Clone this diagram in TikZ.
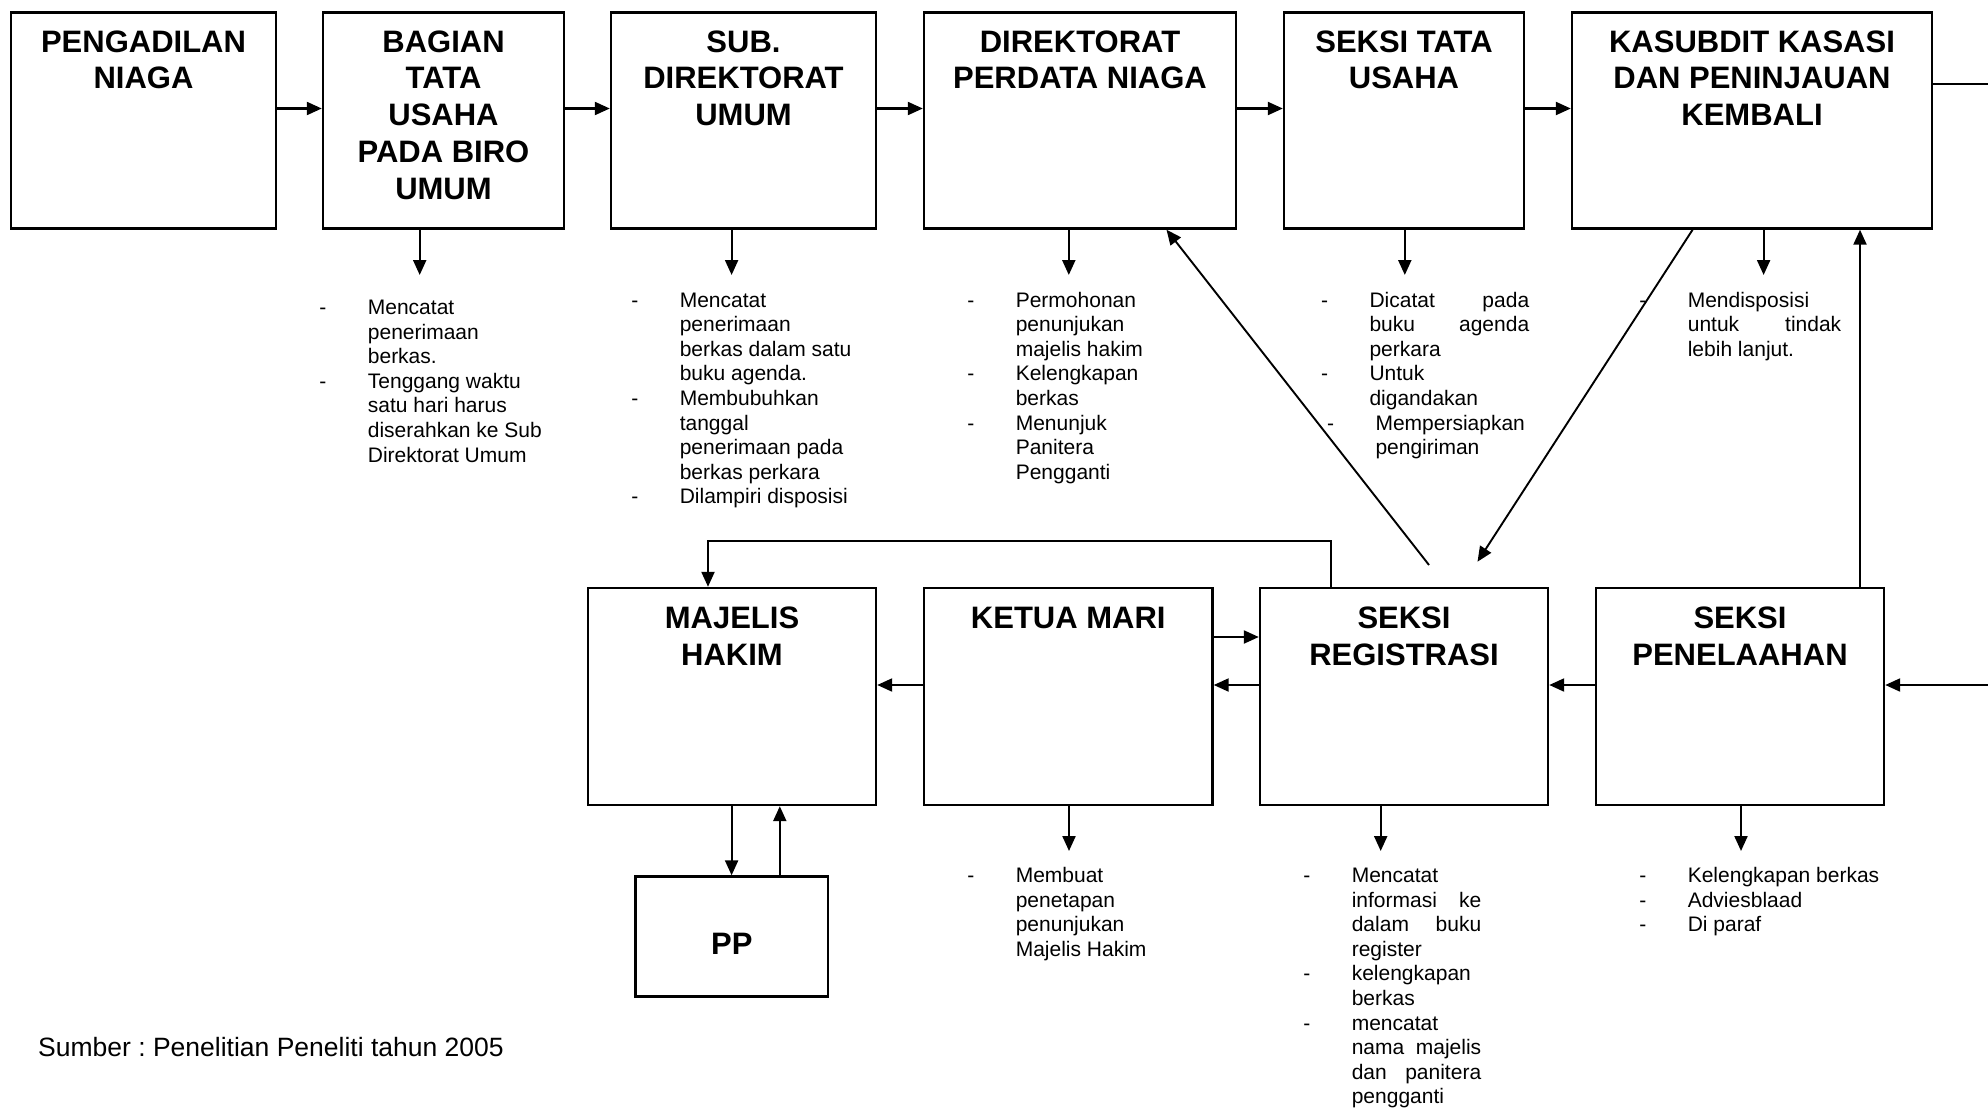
\documentclass[tikz,border=0pt]{standalone}
\usepackage{fontspec}
\setmainfont{Liberation Sans}
\usetikzlibrary{arrows.meta}
\frenchspacing

% stacked, centred title lines
\newcommand\stack[1]{\begin{tabular}[t]{@{}c@{}}#1\end{tabular}}
% bullet dash with a fixed hanging indent
\newcommand\dsh{\makebox[48.5pt][l]{-}}
% list of notes under a box
\newcommand\notes[1]{\begin{tabular}[t]{@{}l@{}l@{}}#1\end{tabular}}

\begin{document}
\begin{tikzpicture}[x=1pt,y=-1pt,
  box/.style={draw, line width=2.4pt, inner sep=0pt},
  ttl/.style={font=\fontsize{31}{36.7}\selectfont\bfseries, inner sep=0pt, anchor=base},
  note/.style={font=\fontsize{21}{24.6}\selectfont, inner sep=0pt, anchor=base west},
  arr/.style={line width=2.2pt, -{Triangle[length=15pt,width=13pt]}},
  thinarr/.style={line width=1.9pt, -{Triangle[length=15pt,width=13pt]}},
  ln/.style={line width=2.2pt}]

\useasboundingbox[fill=white] (0,0) rectangle (1988,1108);

% ---------- upper row ----------
\node[box, minimum width=265pt, minimum height=216pt] (pn) at (143.5,120.5) {};
\node[box, minimum width=241pt, minimum height=216pt] (bg) at (443.5,120.5) {};
\node[box, minimum width=265pt, minimum height=216pt] (sd) at (743.5,120.5) {};
\node[box, minimum width=312pt, minimum height=216pt] (dp) at (1080,120.5) {};
\node[box, minimum width=240pt, minimum height=216pt] (st) at (1404,120.5) {};
\node[box, minimum width=360pt, minimum height=216pt] (ks) at (1752,120.5) {};

\node[ttl] (pn-t) at ([yshift=-41pt]pn.north) {\stack{PENGADILAN\\NIAGA}};
\node[ttl] (bg-t) at ([yshift=-41pt]bg.north) {\stack{BAGIAN\\TATA\\USAHA\\PADA BIRO\\UMUM}};
\node[ttl] (sd-t) at ([yshift=-41pt]sd.north) {\stack{SUB.\\DIREKTORAT\\UMUM}};
\node[ttl] (dp-t) at ([yshift=-41pt]dp.north) {\stack{DIREKTORAT\\PERDATA NIAGA}};
\node[ttl] (st-t) at ([yshift=-41pt]st.north) {\stack{SEKSI TATA\\USAHA}};
\node[ttl] (ks-t) at ([yshift=-41pt]ks.north) {\stack{KASUBDIT KASASI\\DAN PENINJAUAN\\KEMBALI}};

% ---------- lower row ----------
\node[box, minimum width=288pt, minimum height=217pt] (mh) at (732,696.5) {};
\node[box, minimum width=288.5pt, minimum height=217pt] (km) at (1068.25,696.5) {};
\node[box, minimum width=288pt, minimum height=217pt] (sr) at (1404,696.5) {};
\node[box, minimum width=288pt, minimum height=217pt] (sp) at (1740,696.5) {};
\node[box, minimum width=192.5pt, minimum height=120pt] (pp) at (731.75,936.5) {};

\node[ttl] (mh-t) at ([yshift=-42pt]mh.north) {\stack{MAJELIS\\HAKIM}};
\node[ttl] (km-t) at ([yshift=-42pt]km.north) {\stack{KETUA MARI}};
\node[ttl] (sr-t) at ([yshift=-42pt]sr.north) {\stack{SEKSI\\REGISTRASI}};
\node[ttl] (sp-t) at ([yshift=-42pt]sp.north) {\stack{SEKSI\\PENELAAHAN}};
\node[ttl] (pp-t) at (731.75,954) {PP};

% ---------- helper coordinates ----------
\coordinate (yT) at (0,108.5);
\coordinate (yK) at (0,84);
\coordinate (yL) at (0,685);
\coordinate (yU) at (0,637);
\coordinate (kR) at (1988,84);
\coordinate (pR) at (1988,685);

\coordinate (n1) at (419.7,275);
\coordinate (n2) at (731.6,275);
\coordinate (n3) at (1068.8,275);
\coordinate (n4) at (1404.8,275);
\coordinate (n5) at (1763.6,275);
\coordinate (m1) at (1069,851);
\coordinate (m2) at (1380.7,851);
\coordinate (m3) at (1741,851);

\coordinate (xP) at (1860,0);
\coordinate (xR) at (1331,541);
\coordinate (xM) at (708,541);
\coordinate (d1) at (1429,565);
\coordinate (d1e) at (1166.5,0);
\coordinate (d2s) at (1692.6,0);
\coordinate (d2) at (1477.5,561.7);
\coordinate (xA) at (731.6,0);
\coordinate (xB) at (779.8,0);

% ---------- connectors, upper row ----------
\foreach \a/\b in {pn/bg, bg/sd, sd/dp, dp/st, st/ks}
  \draw[arr] (\a.east |- yT) -- (\b.west |- yT);
\draw[ln] (ks.east |- yK) -- (kR);

\draw[arr] (n1 |- bg.south) -- (n1);
\draw[arr] (n2 |- sd.south) -- (n2);
\draw[arr] (n3 |- dp.south) -- (n3);
\draw[arr] (n4 |- st.south) -- (n4);
\draw[arr] (n5 |- ks.south) -- (n5);

% ---------- connectors, lower row ----------
\draw[arr] (km.west |- yL) -- (mh.east |- yL);
\draw[arr] (sr.west |- yL) -- (km.east |- yL);
\draw[arr] (km.east |- yU) -- (sr.west |- yU);
\draw[arr] (sp.west |- yL) -- (sr.east |- yL);
\draw[arr] (pR) -- (sp.east |- yL);
\draw[arr] (xP |- sp.north) -- (xP |- ks.south);
\draw[arr] (xR |- sr.north) -- (xR) -- (xM) -- (xM |- mh.north);
\draw[thinarr] (d1) -- (d1e |- dp.south);
\draw[thinarr] (d2s |- ks.south) -- (d2);
\draw[arr] (xA |- mh.south) -- (xA |- pp.north);
\draw[arr] (xB |- pp.north) -- (xB |- mh.south);

\draw[arr] (m1 |- km.south) -- (m1);
\draw[arr] (m2 |- sr.south) -- (m2);
\draw[arr] (m3 |- sp.south) -- (m3);

% ---------- notes ----------
\node[note] (bg-n) at (319.2,314.5) {\notes{%
  \dsh & Mencatat\\ & penerimaan\\ & berkas.\\
  \dsh & Tenggang waktu\\ & satu hari harus\\ & diserahkan ke Sub\\ & Direktorat Umum}};
\node[note] (sd-n) at (631.1,307) {\notes{%
  \dsh & Mencatat\\ & penerimaan\\ & berkas dalam satu\\ & buku agenda.\\
  \dsh & Membubuhkan\\ & tanggal\\ & penerimaan pada\\ & berkas perkara\\
  \dsh & Dilampiri disposisi}};
\node[note] (dp-n) at (967.1,307) {\notes{%
  \dsh & Permohonan\\ & penunjukan\\ & majelis hakim\\
  \dsh & Kelengkapan\\ & berkas\\
  \dsh & Menunjuk\\ & Panitera\\ & Pengganti}};
\node[note] (st-n) at (1320.8,307) {\notes{%
  \dsh & \makebox[159.7pt][s]{Dicatat pada}\\ & \makebox[159.7pt][s]{buku agenda}\\ & perkara\\
  \dsh & Untuk\\ & digandakan\\
  \makebox[48.5pt][l]{\hspace{6pt}-} & \hspace*{6pt}Mempersiapkan\\ & \hspace*{6pt}pengiriman}};
\node[note] (ks-n) at (1639.1,307) {\notes{%
  \dsh & Mendisposisi\\ & \makebox[153.4pt][s]{untuk tindak}\\ & lebih lanjut.}};
\node[note] (km-n) at (967.1,882.5) {\notes{%
  \dsh & Membuat\\ & penetapan\\ & penunjukan\\ & Majelis Hakim}};
\node[note] (sr-n) at (1303.1,882.5) {\notes{%
  \dsh & Mencatat\\ & \makebox[129.4pt][s]{informasi ke}\\ & \makebox[129.4pt][s]{dalam buku}\\ & register\\
  \dsh & kelengkapan\\ & berkas\\
  \dsh & mencatat\\ & \makebox[129.4pt][s]{nama majelis}\\ & \makebox[129.4pt][s]{dan panitera}\\ & pengganti}};
\node[note] (sp-n) at (1639.1,882.5) {\notes{%
  \dsh & Kelengkapan berkas\\ \dsh & Adviesblaad\\ \dsh & Di paraf}};

\node[font=\fontsize{26.5}{31}\selectfont, inner sep=0pt, anchor=base west] (src) at (38,1056)
  {Sumber : Penelitian Peneliti tahun 2005};

\end{tikzpicture}
\end{document}
